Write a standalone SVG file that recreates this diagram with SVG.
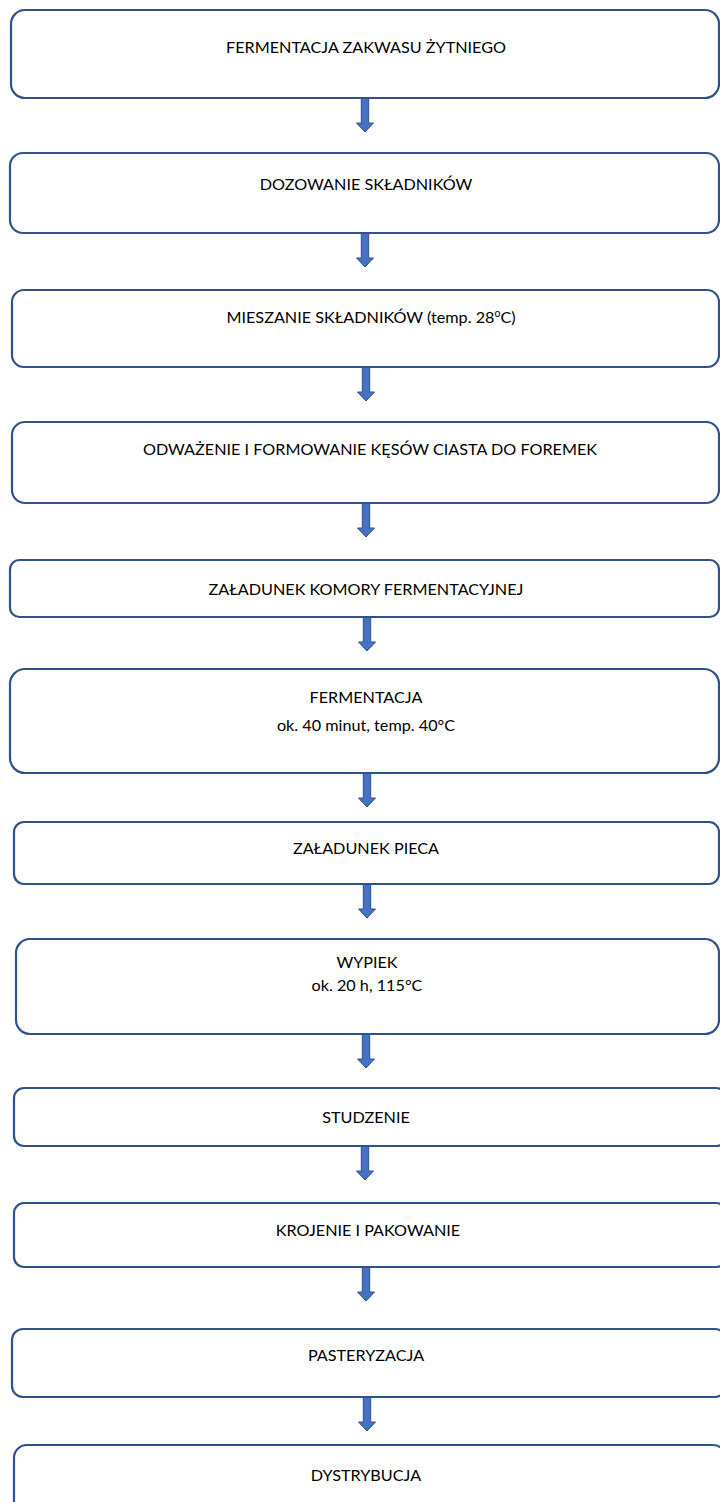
<svg xmlns="http://www.w3.org/2000/svg" xmlns:xlink="http://www.w3.org/1999/xlink" width="720" height="1502" viewBox="0 0 720 1502">
<style>
.box{fill:#ffffff;stroke:#2F528F;stroke-width:2.2}
.t{font-family:Lato,"Open Sans","Liberation Sans",sans-serif;font-size:16.2px;fill:#000000;text-anchor:middle}
.arr{fill:#4472C4;stroke:#2F528F;stroke-width:1}
</style>
<defs>
<path id="arrow" class="arr" d="M-3.7,0 H3.7 V25 H8.5 L0,34 L-8.5,25 H-3.7 Z"/>
</defs>
<rect width="720" height="1502" fill="#ffffff"/>
<g id="connectors">
<use xlink:href="#arrow" x="365" y="98"/>
<use xlink:href="#arrow" x="365" y="233"/>
<use xlink:href="#arrow" x="366" y="367"/>
<use xlink:href="#arrow" x="366" y="503"/>
<use xlink:href="#arrow" x="367" y="617"/>
<use xlink:href="#arrow" x="367" y="773"/>
<use xlink:href="#arrow" x="367" y="884"/>
<use xlink:href="#arrow" x="366" y="1034"/>
<use xlink:href="#arrow" x="365" y="1146"/>
<use xlink:href="#arrow" x="366" y="1267"/>
<use xlink:href="#arrow" x="367" y="1397"/>
</g>
<g id="n1"><rect class="box" x="11" y="10" width="708" height="88" rx="14"/><text class="t" x="366" y="52.5">FERMENTACJA ZAKWASU ŻYTNIEGO</text></g>
<g id="n2"><rect class="box" x="10" y="153" width="709" height="80" rx="13"/><text class="t" x="366" y="189.5">DOZOWANIE SKŁADNIKÓW</text></g>
<g id="n3"><rect class="box" x="12" y="290" width="707" height="77" rx="12"/><text class="t" x="371" y="323">MIESZANIE SKŁADNIKÓW (temp. 28<tspan dy="-6" font-size="10.5">o</tspan><tspan dy="6">C)</tspan></text></g>
<g id="n4"><rect class="box" x="12" y="422" width="707" height="81" rx="13"/><text class="t" x="370" y="454.5">ODWAŻENIE I FORMOWANIE KĘSÓW CIASTA DO FOREMEK</text></g>
<g id="n5"><rect class="box" x="10" y="560" width="709" height="57" rx="9.5"/><text class="t" x="366" y="594.5">ZAŁADUNEK KOMORY FERMENTACYJNEJ</text></g>
<g id="n6"><rect class="box" x="10" y="669" width="709" height="104" rx="15"/><text class="t" x="366" y="702.5">FERMENTACJA</text><text class="t" x="366" y="730.5">ok. 40 minut, temp. 40°C</text></g>
<g id="n7"><rect class="box" x="14" y="822" width="705" height="62" rx="10"/><text class="t" x="366" y="853.5">ZAŁADUNEK PIECA</text></g>
<g id="n8"><rect class="box" x="16" y="939" width="703" height="95" rx="14"/><text class="t" x="367" y="967.5">WYPIEK</text><text class="t" x="367" y="990.5">ok. 20 h, 115°C</text></g>
<g id="n9"><rect class="box" x="14" y="1088" width="712" height="58" rx="10"/><text class="t" x="366" y="1122.5">STUDZENIE</text></g>
<g id="n10"><rect class="box" x="14" y="1203" width="712" height="64" rx="10"/><text class="t" x="368" y="1235.5">KROJENIE I PAKOWANIE</text></g>
<g id="n11"><rect class="box" x="12" y="1329" width="714" height="68" rx="11"/><text class="t" x="366" y="1360.5">PASTERYZACJA</text></g>
<g id="n12"><rect class="box" x="14" y="1445" width="712" height="80" rx="13"/><text class="t" x="366" y="1480.5">DYSTRYBUCJA</text></g>
</svg>
